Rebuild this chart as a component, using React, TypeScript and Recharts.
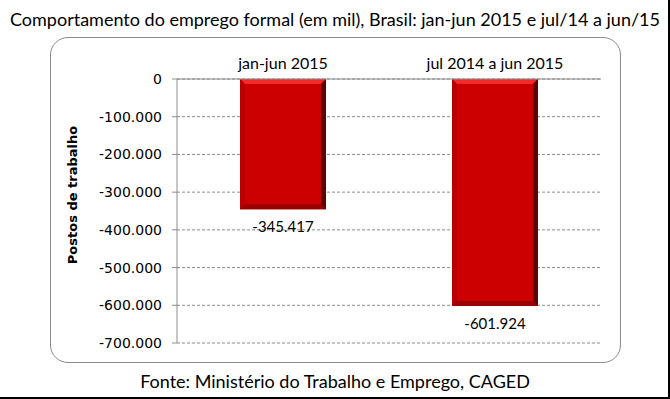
import React from 'react';
import { BarChart, Bar, XAxis, YAxis, CartesianGrid, LabelList } from 'recharts';

const categories = ['jan-jun 2015', 'jul 2014 a jun 2015'];
const postos = [-345417, -601924];
const yTicks = [0, -100000, -200000, -300000, -400000, -500000, -600000, -700000];

const data = categories.map((name, i) => ({ name, postos: postos[i] }));

const GRID = '#8c8c8c';
const CALIBRI = 'Lato, "Open Sans", sans-serif';

function fmt(v: number) {
    if (v === 0) return '0';
    const s = Math.abs(v).toString().replace(/\B(?=(\d{3})+(?!\d))/g, '.');
    return (v < 0 ? '-' : '') + s;
}

// bevelled red bar like the old Excel 3D style
const BevelBar = (props: any) => {
    const { x, width } = props;
    let { y, height } = props;
    if (height < 0) {
        y = y + height;
        height = -height;
    }
    const b = 5;
    const x2 = x + width;
    const y2 = y + height;
    return (
        <g>
            <rect x={x} y={y} width={width} height={height} fill="#cc0000" />
            <polygon points={`${x},${y} ${x2},${y} ${x2 - b},${y + b} ${x + b},${y + b}`} fill="#f22a2a" />
            <polygon points={`${x},${y} ${x + b},${y + b} ${x + b},${y2 - b} ${x},${y2}`} fill="#b80000" />
            <polygon points={`${x2},${y} ${x2},${y2} ${x2 - b},${y2 - b} ${x2 - b},${y + b}`} fill="#5c0404" />
            <polygon points={`${x},${y2} ${x2},${y2} ${x2 - b},${y2 - b} ${x + b},${y2 - b}`} fill="#9a0000" />
        </g>
    );
};

const BottomLabel = (props: any) => {
    const { x, y, width, height, value } = props;
    const bottom = height < 0 ? y : y + height;
    return (
        <text x={x + width / 2} y={bottom + 23} textAnchor="middle" fontFamily={CALIBRI} fontSize={15} fill="#000">
            {fmt(value)}
        </text>
    );
};

const AxisTitle = () => (
    <text
        x={77}
        y={195}
        transform="rotate(-90 77 195)"
        textAnchor="middle"
        fontFamily="DejaVu Sans"
        fontWeight="bold"
        fontSize={13}
        fill="#000"
    >
        Postos de trabalho
    </text>
);

export default function App() {
    return (
        <div
            style={{
                position: 'fixed',
                left: 0,
                top: 0,
                width: 670,
                height: 399,
                background: '#fff',
                boxSizing: 'border-box',
                borderRight: '2px solid #000',
                borderBottom: '2px solid #000',
                fontFamily: CALIBRI,
            }}
        >
            <div style={{ position: 'absolute', left: 0, top: 8, width: 670, textAlign: 'center', fontSize: 18, lineHeight: '22px', color: '#000' }}>
                Comportamento do emprego formal (em mil), Brasil: jan-jun 2015 e jul/14 a jun/15
            </div>
            <div
                style={{
                    position: 'absolute',
                    left: 50,
                    top: 37,
                    width: 571,
                    height: 326,
                    boxSizing: 'border-box',
                    border: '1px solid #8a8a8a',
                    borderRadius: 18,
                }}
            />
            <div style={{ position: 'absolute', left: 0, top: 370, width: 670, textAlign: 'center', fontSize: 18, lineHeight: '22px', color: '#000' }}>
                Fonte: Ministério do Trabalho e Emprego, CAGED
            </div>
            <div style={{ position: 'absolute', left: 0, top: 0 }}>
                <BarChart
                    width={670}
                    height={399}
                    data={data}
                    margin={{ top: 49, right: 69, bottom: 56, left: 77 }}
                    barCategoryGap="20%"
                >
                    <CartesianGrid vertical={false} stroke={GRID} strokeDasharray="3 2" />
                    <XAxis
                        dataKey="name"
                        orientation="top"
                        height={30}
                        tickLine={false}
                        tickSize={0}
                        tickMargin={10}
                        axisLine={{ stroke: GRID }}
                        tick={{ fill: '#000', fontSize: 16, fontFamily: CALIBRI }}
                    />
                    <YAxis
                        width={100}
                        domain={[-700000, 0]}
                        ticks={yTicks}
                        interval={0}
                        tickFormatter={fmt}
                        tickSize={5}
                        tickMargin={10}
                        axisLine={{ stroke: GRID }}
                        tickLine={{ stroke: GRID }}
                        tick={{ fill: '#000', fontSize: 14, fontFamily: 'DejaVu Sans' }}
                    />
                    <Bar dataKey="postos" shape={<BevelBar />} barSize={86} isAnimationActive={false}>
                        <LabelList dataKey="postos" content={<BottomLabel />} />
                    </Bar>
                    <AxisTitle />
                </BarChart>
            </div>
        </div>
    );
}
